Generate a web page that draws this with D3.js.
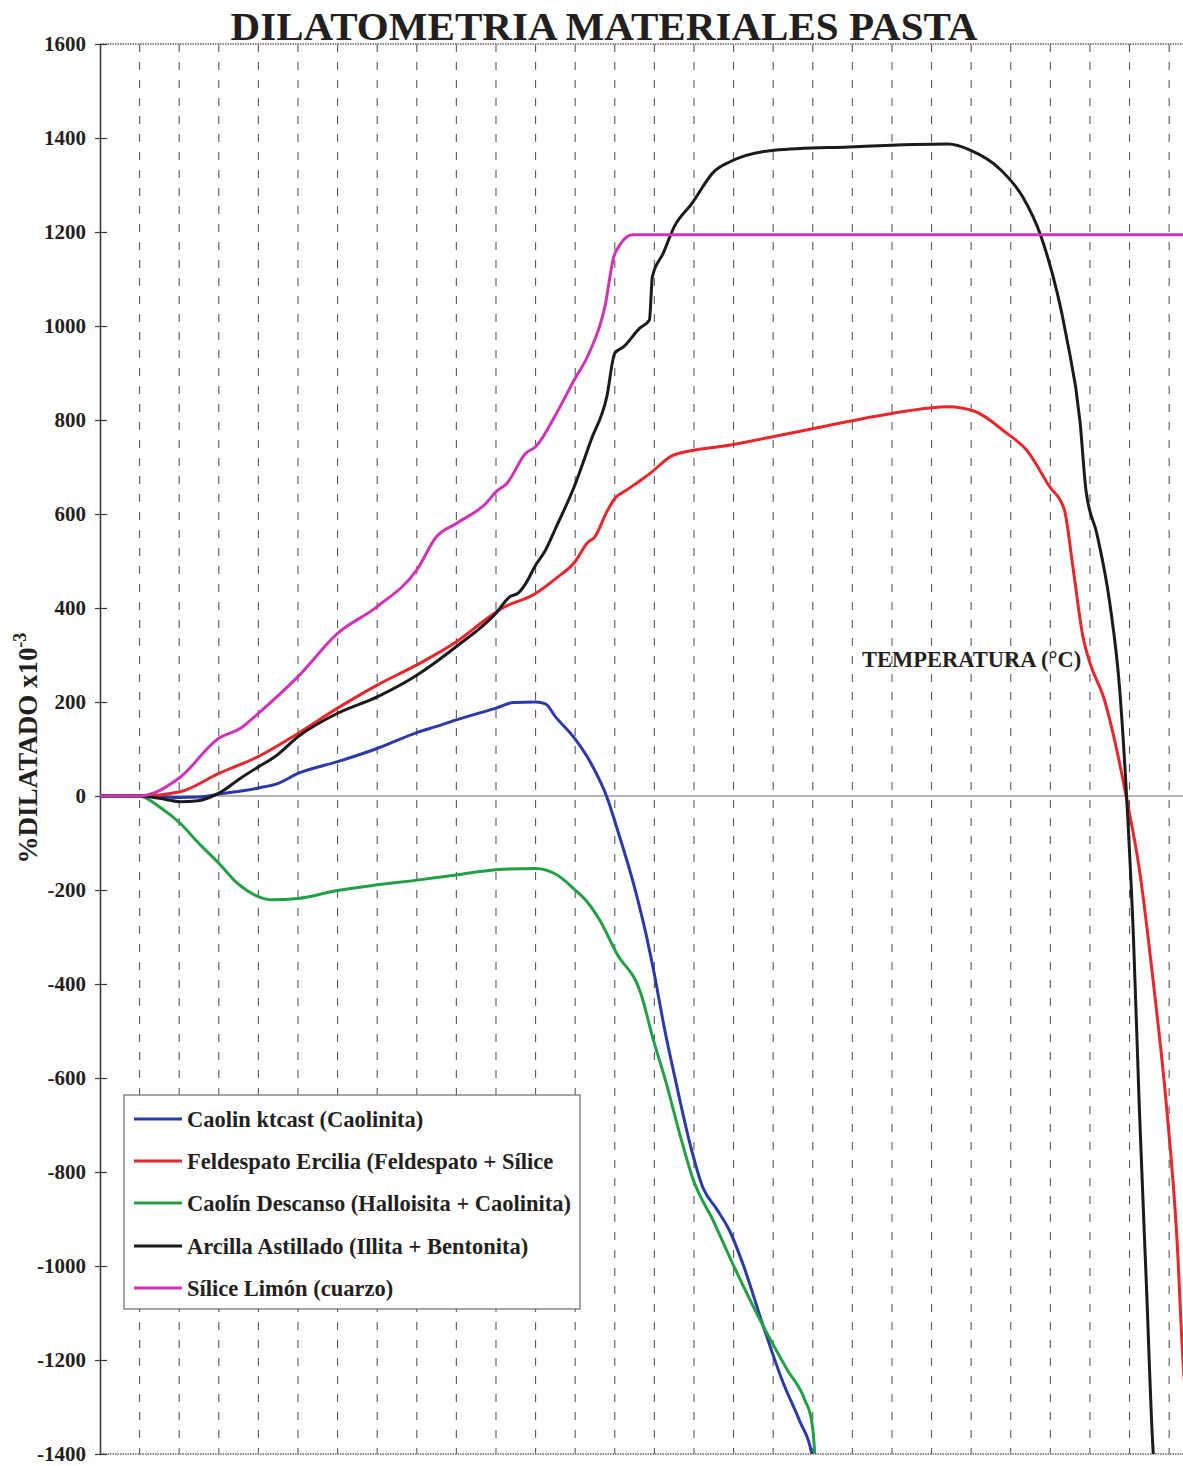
<!DOCTYPE html>
<html>
<head>
<meta charset="utf-8">
<script src="https://cdn.jsdelivr.net/npm/d3@7"></script>
<style>
  html, body { margin: 0; padding: 0; background: #fff; }
  svg { display: block; }
  text { font-family: "Liberation Serif", "Times New Roman", serif; font-weight: bold; fill: #231f20; }
</style>
</head>
<body>
<svg id="chart" width="1183" height="1466"></svg>
<script>
// Dilatometry curves: [temperature °C, % dilatation x10^-3]
const caolinKtcast = [
  [0,0],[40,0],[60,-1],[80,-3],[100,-2],[120,4],[160,17],[180,27],[200,48],[240,73],
  [280,101],[320,135],[340,148],[360,162],[400,187],[418,199],[440,200],[450,196],
  [460,169],[480,121],[492,84],[503,41],[512,-2],[522,-67],[539,-187],[552,-298],
  [561,-390],[569,-482],[582,-611],[596,-740],[609,-833],[623,-879],[636,-925],
  [650,-999],[670,-1128],[690,-1248],[707,-1331],[719,-1400],[722,-1440]
];
const feldespatoErcilia = [
  [0,0],[40,0],[81,9],[120,48],[160,84],[200,133],[240,187],[280,236],[320,279],
  [360,328],[390,376],[404,397],[440,431],[460,462],[480,499],[492,538],[500,552],
  [512,605],[520,633],[532,651],[549,676],[556,687],[580,726],[637,747],[721,782],
  [800,814],[857,828],[884,818],[914,775],[936,736],[959,659],[974,610],[983,484],
  [993,338],[1000,283],[1014,209],[1027,99],[1037,-5],[1050,-157],[1064,-396],
  [1077,-653],[1088,-946],[1094,-1202],[1100,-1350]
];
const caolinDescanso = [
  [0,0],[39,0],[62,-26],[81,-58],[100,-101],[120,-143],[139,-186],[160,-214],
  [174,-221],[200,-218],[240,-201],[280,-189],[320,-179],[360,-168],[400,-157],
  [440,-154],[461,-167],[480,-200],[492,-225],[505,-265],[522,-335],[546,-418],
  [559,-519],[572,-611],[586,-722],[599,-815],[620,-906],[640,-999],[670,-1128],
  [694,-1220],[712,-1285],[719,-1331],[722,-1400],[723,-1440]
];
const arcillaAstillado = [
  [0,0],[40,0],[60,-5],[81,-12],[99,-10],[120,6],[142,38],[160,62],[177,84],[200,126],
  [240,176],[280,211],[320,257],[360,318],[400,389],[414,424],[422,431],[430,452],
  [440,491],[450,523],[461,573],[479,658],[496,757],[512,850],[520,942],[529,956],
  [545,995],[555,1013],[558,1105],[569,1155],[580,1211],[598,1261],[620,1328],
  [637,1350],[681,1374],[756,1381],[857,1387],[879,1374],[910,1332],[932,1275],
  [950,1194],[976,980],[990,796],[996,650],[1007,558],[1020,411],[1030,228],
  [1037,0],[1044,-304],[1050,-670],[1057,-1038],[1064,-1400],[1066,-1450]
];
const siliceLimon = [
  [0,0],[40,0],[81,40],[120,123],[142,144],[160,176],[200,254],[240,346],[280,403],
  [320,481],[340,552],[360,580],[390,623],[400,647],[411,665],[430,729],[440,743],
  [461,814],[479,885],[494,942],[510,1041],[519,1147],[525,1172],[538,1194],[1100,1194]
];

const seriesNames = [
  "Caolin ktcast (Caolinita)",
  "Feldespato Ercilia (Feldespato + Sílice",
  "Caolín Descanso (Halloisita + Caolinita)",
  "Arcilla Astillado (Illita + Bentonita)",
  "Sílice Limón (cuarzo)"
];
const seriesColors = ["#2b3aa6", "#e8262c", "#22a045", "#1b1b1b", "#d232b4"];
const seriesData = [caolinKtcast, feldespatoErcilia, caolinDescanso, arcillaAstillado, siliceLimon];

const yTicks = [1600, 1400, 1200, 1000, 800, 600, 400, 200, 0, -200, -400, -600, -800, -1000, -1200, -1400];
const gridTemps = d3.range(40, 1094, 40);

const titleText = "DILATOMETRIA MATERIALES PASTA";
const yLabel = "%DILATADO x10";
const yLabelExp = "-3";
const xLabel = "TEMPERATURA (°C)";

const svg = d3.select("#chart");
const plotLeft = 100, plotRight = 1183, plotTop = 44, plotBottom = 1454;

const x = d3.scaleLinear().domain([0, 1094]).range([plotLeft, plotRight]);
const y = d3.scaleLinear().domain([-1400, 1600]).range([plotBottom, plotTop]);

svg.append("defs").append("clipPath").attr("id", "plotClip")
  .append("rect").attr("x", plotLeft).attr("y", plotTop)
  .attr("width", plotRight - plotLeft).attr("height", plotBottom - plotTop);

// dashed vertical grid
svg.append("g").selectAll("line").data(gridTemps).join("line")
  .attr("x1", d => x(d)).attr("x2", d => x(d))
  .attr("y1", plotTop).attr("y2", plotBottom)
  .attr("stroke", "#5a5a5a").attr("stroke-width", 1.1)
  .attr("stroke-dasharray", "8,10");

// top and bottom frame lines
[plotTop, plotBottom].forEach(py => {
  svg.append("line").attr("x1", plotLeft).attr("x2", plotRight).attr("y1", py).attr("y2", py)
    .attr("stroke", "#8a8a8a").attr("stroke-width", 2).attr("stroke-dasharray", "1.5,1");
});

// zero line
svg.append("line").attr("x1", plotLeft).attr("x2", plotRight).attr("y1", y(0)).attr("y2", y(0))
  .attr("stroke", "#6e6e6e").attr("stroke-width", 1.2);

// y axis, plain hyphen for negative labels
const yAxis = d3.axisLeft(y).tickValues(yTicks).tickSize(0).tickPadding(14).tickFormat(d => String(d));
const yg = svg.append("g").attr("transform", `translate(${plotLeft},0)`).call(yAxis);
yg.select(".domain").attr("stroke", "#3a3a3a").attr("stroke-width", 1.6);
yg.selectAll(".tick text").style("font-size", "21px")
  .style("font-family", "'Liberation Serif', serif").style("font-weight", "bold").attr("fill", "#231f20");
yg.selectAll(".tick").append("line").attr("x1", -5).attr("x2", 7)
  .attr("stroke", "#3a3a3a").attr("stroke-width", 1.2);

// curves
const line = d3.line().x(d => x(d[0])).y(d => y(d[1])).curve(d3.curveMonotoneX);
const curves = svg.append("g").attr("clip-path", "url(#plotClip)");
seriesData.forEach((data, i) => {
  curves.append("path").datum(data).attr("d", line)
    .attr("fill", "none").attr("stroke", seriesColors[i]).attr("stroke-width", 3)
    .attr("stroke-linejoin", "round").attr("stroke-linecap", "round");
});

// title
svg.append("text").attr("x", 604).attr("y", 40).attr("text-anchor", "middle")
  .attr("textLength", 747).attr("lengthAdjust", "spacingAndGlyphs")
  .style("font-size", "40px").text(titleText);

// y label
const yl = svg.append("text").attr("transform", "translate(37,748) rotate(-90)")
  .attr("text-anchor", "middle").style("font-size", "27px");
yl.append("tspan").text(yLabel);
yl.append("tspan").attr("dy", -11).style("font-size", "18px").text(yLabelExp);

// x label
svg.append("text").attr("x", 862).attr("y", 667).style("font-size", "22.5px").text(xLabel);

// legend
const lg = svg.append("g");
lg.append("rect").attr("x", 124).attr("y", 1095).attr("width", 456).attr("height", 214)
  .attr("fill", "#fff").attr("stroke", "#6a6a6a").attr("stroke-width", 1.2);
const rowY = [1119, 1161, 1203, 1246, 1288];
seriesNames.forEach((name, i) => {
  lg.append("line").attr("x1", 134).attr("x2", 182).attr("y1", rowY[i]).attr("y2", rowY[i])
    .attr("stroke", seriesColors[i]).attr("stroke-width", 3);
  lg.append("text").attr("x", 187).attr("y", rowY[i] + 8).style("font-size", "22.5px").text(name);
});
</script>
</body>
</html>
